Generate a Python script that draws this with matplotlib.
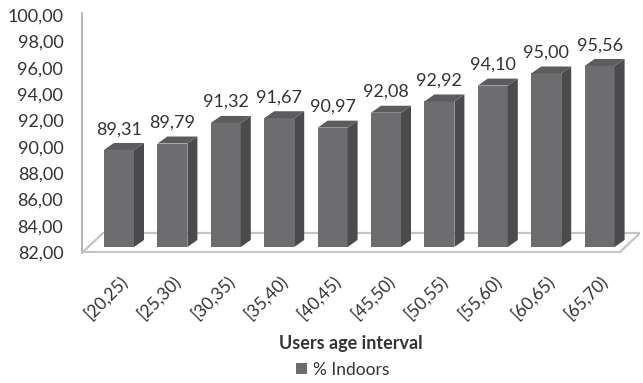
import matplotlib
matplotlib.use("Agg")
import matplotlib.pyplot as plt
from matplotlib.patches import Polygon, Patch

# ---------------- data ----------------
categories = ["[20,25)", "[25,30)", "[30,35)", "[35,40)", "[40,45)",
              "[45,50)", "[50,55)", "[55,60)", "[60,65)", "[65,70)"]
indoors = [89.31, 89.79, 91.32, 91.67, 90.97, 92.08, 92.92, 94.10, 95.00, 95.56]
y_ticks = [82, 84, 86, 88, 90, 92, 94, 96, 98, 100]
series_name = "% Indoors"
x_title = "Users age interval"

# ---------------- style ----------------
FONT = ["Lato", "DejaVu Sans"]
plt.rcParams["font.family"] = FONT
TXT = "#333333"
FRONT = "#6d6d6f"
SIDE = "#4b4b4d"
TOP = "#5c5c5e"
FLOOR = "#c4c4c4"

W, H = 643, 383
fig = plt.figure(figsize=(W / 100, H / 100), dpi=100)

# axes box in pixels
L, R, T, B = 82, 640, 13, 253
ax = fig.add_axes([L / W, 1 - B / H, (R - L) / W, (B - T) / H])

# category positions: bar i centre at 119 + 53.4*i px
step = 53.4
x0 = 119
xlim = ((L - x0) / step, (R - x0) / step)
ax.set_xlim(*xlim)

# value axis (tick labels plane): 100 at px 15, 82 at px 252
ppu = (252 - 15) / 18.0
ax.set_ylim(82 - (B - 252) / ppu, 100 + (15 - T) / ppu)

# bar plane (perspective of the 3-D columns)
ppu2 = 13.44
base = 82.09  # floor level in bar plane, at px 247

def v2(px):
    return base + (247 - px) / ppu2

ax2 = ax.twinx()
ax2.set_ylim(v2(B), v2(T))
ax2.set_xlim(*xlim)
for a in (ax, ax2):
    for s in a.spines.values():
        s.set_visible(False)
ax2.set_yticks([])

ax.spines["left"].set_visible(True)
ax.spines["left"].set_color("#a9a9a9")
ax.spines["left"].set_linewidth(1.2)
ax.set_yticks(y_ticks)
ax.set_yticklabels([f"{t:.2f}".replace(".", ",") for t in y_ticks])
ax.tick_params(axis="y", length=0, pad=13.5, labelsize=13, labelcolor=TXT)

xs = list(range(len(categories)))
ax.set_xticks(xs)
ax.set_xticklabels(categories, rotation=45, ha="right", va="top",
                   rotation_mode="anchor")
ax.tick_params(axis="x", length=0, pad=14, labelsize=12.5, labelcolor=TXT)

# floor parallelogram (3-D base)
fdx = 20 / step
f_front = v2(252)
f_back = v2(233)
fxl = (83 - x0) / step
fxr = (620 - x0) / step
floor = Polygon([(fxl, f_front), (fxr, f_front), (fxr + fdx, f_back), (fxl + fdx, f_back)],
                closed=True, facecolor="white", edgecolor=FLOOR, lw=1.6, zorder=1)
ax2.add_patch(floor)

# bars
bw = 30 / step
ddx = 10 / step
ddy = 7 / ppu2
heights = [v - base for v in indoors]
ax2.bar(xs, heights, bottom=base, width=bw, color=FRONT, zorder=3, linewidth=0)
for x, v in zip(xs, indoors):
    xr = x + bw / 2
    xl = x - bw / 2
    side = Polygon([(xr, base), (xr + ddx, base + ddy), (xr + ddx, v + ddy), (xr, v)],
                   closed=True, facecolor=SIDE, edgecolor="none", zorder=3)
    top = Polygon([(xl, v), (xr, v), (xr + ddx, v + ddy), (xl + ddx, v + ddy)],
                  closed=True, facecolor=TOP, edgecolor="none", zorder=3)
    ax2.add_patch(side)
    ax2.add_patch(top)
    ax2.annotate(f"{v:.2f}".replace(".", ","), (x, v), xytext=(0, 15),
                 textcoords="offset points", ha="center", va="center",
                 fontsize=13, color=TXT, zorder=4)

# axis title
fig.text(351 / W, 1 - 344 / H, x_title, ha="center", va="center",
         fontsize=13, fontweight="bold", color=TXT)

# legend
fig.legend(handles=[Patch(facecolor=FRONT, edgecolor="none", label=series_name)],
           loc="center", bbox_to_anchor=(343 / W, 1 - 370 / H), frameon=False,
           fontsize=12.5, handlelength=0.6, handleheight=0.6, handletextpad=0.4,
           labelcolor=TXT)

fig.savefig("out.png", dpi=100)
